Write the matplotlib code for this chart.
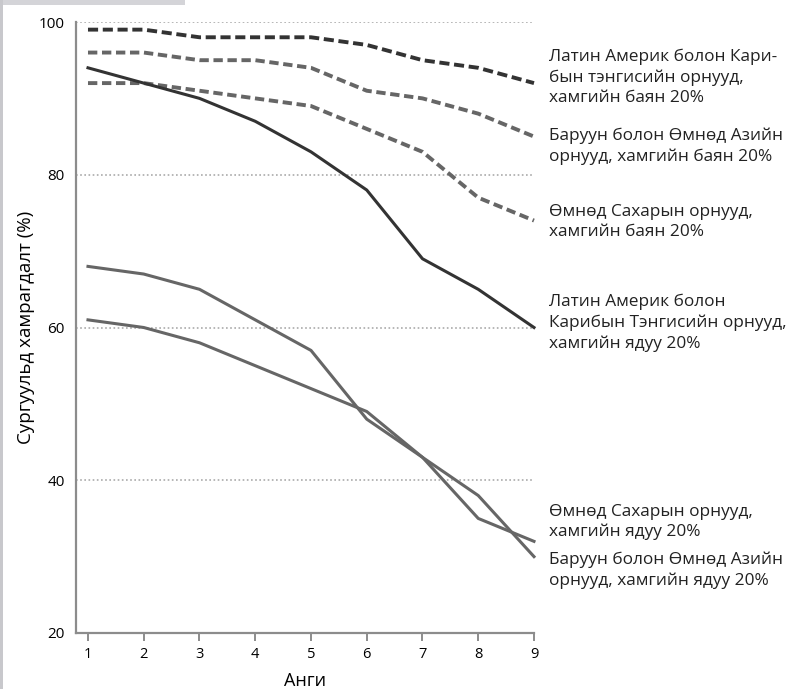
import matplotlib
matplotlib.use('Agg')
import matplotlib.pyplot as plt
from matplotlib.patches import Rectangle

plt.rcParams['font.family'] = ['Open Sans', 'Noto Sans', 'DejaVu Sans']

# grades
grades = [1, 2, 3, 4, 5, 6, 7, 8, 9]

# completion (%) by grade
latam_rich = [99, 99, 98, 98, 98, 97, 95, 94, 92]
sasia_rich = [96, 96, 95, 95, 94, 91, 90, 88, 85]
ssa_rich = [92, 92, 91, 90, 89, 86, 83, 77, 74]
latam_poor = [94, 92, 90, 87, 83, 78, 69, 65, 60]
ssa_poor = [68, 67, 65, 61, 57, 48, 43, 35, 32]
sasia_poor = [61, 60, 58, 55, 52, 49, 43, 38, 30]

labels = [
    ('Латин Америк болон Кари-\nбын тэнгисийн орнууд,\nхамгийн баян 20%', 77),
    ('Баруун болон Өмнөд Азийн\nорнууд, хамгийн баян 20%', 146),
    ('Өмнөд Сахарын орнууд,\nхамгийн баян 20%', 222),
    ('Латин Америк болон\nКарибын Тэнгисийн орнууд,\nхамгийн ядуу 20%', 323),
    ('Өмнөд Сахарын орнууд,\nхамгийн ядуу 20%', 522),
    ('Баруун болон Өмнөд Азийн\nорнууд, хамгийн ядуу 20%', 570),
]

W, H = 801, 689
fig = plt.figure(figsize=(W / 100, H / 100), dpi=100)
ax = fig.add_axes([76 / W, 1 - 633 / H, (534 - 76) / W, (633 - 22) / H])

# dotted gridlines
for g in [40, 60, 80, 100]:
    ax.axhline(g, color='#aaaaaa', lw=1.2, ls=(0, (1, 1.5)), zorder=1)

dark = '#333333'
grey = '#666666'
ax.plot(grades, latam_rich, color=dark, lw=2.8, ls=(0, (2.6, 1.2)), clip_on=False, zorder=3)
ax.plot(grades, sasia_rich, color=grey, lw=2.8, ls=(0, (2.4, 1.2)), clip_on=False, zorder=3)
ax.plot(grades, ssa_rich, color=grey, lw=2.8, ls=(0, (2.4, 1.2)), clip_on=False, zorder=3)
ax.plot(grades, latam_poor, color=dark, lw=2.2, clip_on=False, zorder=3)
ax.plot(grades, ssa_poor, color=grey, lw=2.2, clip_on=False, zorder=3)
ax.plot(grades, sasia_poor, color=grey, lw=2.2, clip_on=False, zorder=3)

ax.set_xlim(0.785, 9)
ax.set_ylim(20, 100)
ax.set_xticks(grades)
ax.set_yticks([20, 40, 60, 80, 100])
for s in ['top', 'right']:
    ax.spines[s].set_visible(False)
for s in ['left', 'bottom']:
    ax.spines[s].set_color('#8c8c8c')
    ax.spines[s].set_linewidth(1.6)
ax.tick_params(axis='x', length=6, width=1.4, color='#8c8c8c', labelsize=10.5, pad=4)
ax.tick_params(axis='y', length=0, labelsize=11, pad=8)

ax.set_xlabel('Анги', fontsize=13, labelpad=7)
ax.set_ylabel('Сургуульд хамрагдалт (%)', fontsize=13.5, labelpad=3)

for txt, yc in labels:
    fig.text(549 / W, 1 - yc / H, txt, fontsize=12.4, va='center', ha='left',
             linespacing=1.35, color='#222222')

# page edge marks
fig.add_artist(Rectangle((0, 1 - 5 / H), 185 / W, 5 / H, transform=fig.transFigure,
                         color='#d4d4d8', lw=0))
fig.add_artist(Rectangle((0, 0), 3 / W, 1, transform=fig.transFigure,
                         color='#c8c8cc', lw=0))

fig.savefig('out.png', dpi=100)
